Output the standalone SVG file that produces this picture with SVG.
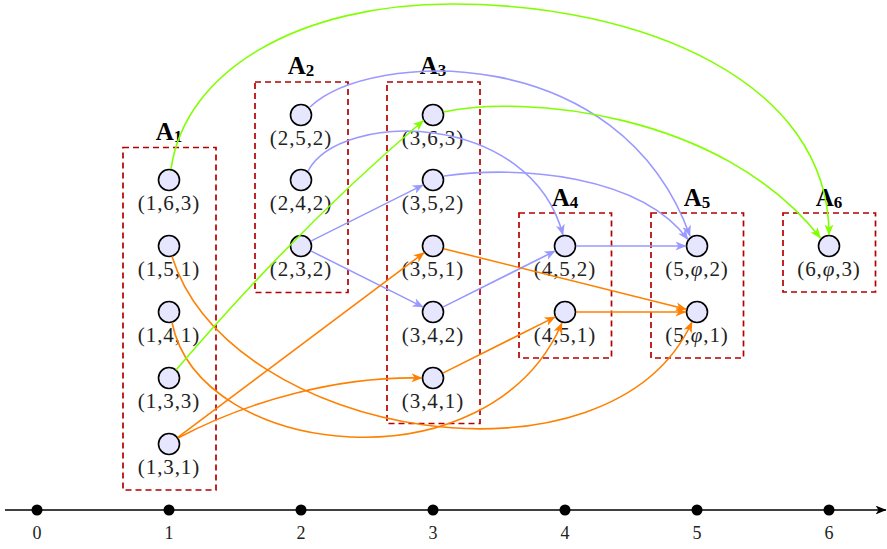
<svg xmlns="http://www.w3.org/2000/svg" width="887" height="549" viewBox="0 0 887 549">
<defs>
<style>
.box{fill:none;stroke:#b30000;stroke-width:1.7;stroke-dasharray:6 4}
.nd{fill:#e6e6ff;stroke:#000;stroke-width:1.6}
.lb{font-family:"Liberation Serif",serif;font-size:21px;text-anchor:middle;letter-spacing:0.9px;fill:#222}
.al{font-family:"Liberation Serif",serif;font-size:25px;font-weight:bold;text-anchor:middle;fill:#000}
.ax{font-family:"Liberation Serif",serif;font-size:18px;text-anchor:middle;fill:#222}
.e{fill:none;stroke-width:1.6}
.o{stroke:#ff8000}
.b{stroke:#9999ff}
.g{stroke:#80ff00}
</style>
<marker id="mo" viewBox="0 0 11 9" refX="10.5" refY="4.5" markerWidth="11" markerHeight="9" markerUnits="userSpaceOnUse" orient="auto"><path d="M0,0 L11,4.5 L0,9 L3,4.5 Z" fill="#ff8000"/></marker>
<marker id="mb" viewBox="0 0 11 9" refX="10.5" refY="4.5" markerWidth="11" markerHeight="9" markerUnits="userSpaceOnUse" orient="auto"><path d="M0,0 L11,4.5 L0,9 L3,4.5 Z" fill="#9999ff"/></marker>
<marker id="mg" viewBox="0 0 11 9" refX="10.5" refY="4.5" markerWidth="11" markerHeight="9" markerUnits="userSpaceOnUse" orient="auto"><path d="M0,0 L11,4.5 L0,9 L3,4.5 Z" fill="#80ff00"/></marker>
<marker id="mk" viewBox="0 0 11 9" refX="10.5" refY="4.5" markerWidth="11" markerHeight="9" markerUnits="userSpaceOnUse" orient="auto"><path d="M0,0 L11,4.5 L0,9 L3,4.5 Z" fill="#000"/></marker>
</defs>
<rect width="887" height="549" fill="#fff"/>

<g id="axis">
<line x1="5" y1="510" x2="886" y2="510" stroke="#000" stroke-width="1.6" marker-end="url(#mk)"/>
<circle cx="37" cy="510" r="5.5"/><circle cx="169" cy="510" r="5.5"/><circle cx="301" cy="510" r="5.5"/><circle cx="433" cy="510" r="5.5"/><circle cx="565" cy="510" r="5.5"/><circle cx="697" cy="510" r="5.5"/><circle cx="829" cy="510" r="5.5"/>
<text class="ax" x="37" y="539">0</text><text class="ax" x="169" y="539">1</text><text class="ax" x="301" y="539">2</text><text class="ax" x="433" y="539">3</text><text class="ax" x="565" y="539">4</text><text class="ax" x="697" y="539">5</text><text class="ax" x="829" y="539">6</text>
</g>

<g id="A1"><rect class="box" x="123" y="147.5" width="93" height="342.5"/><text class="al" x="169" y="140">A<tspan font-size="17" dy="2">1</tspan></text></g>
<g id="A2"><rect class="box" x="255" y="82" width="93" height="210.5"/><text class="al" x="301" y="74">A<tspan font-size="17" dy="2">2</tspan></text></g>
<g id="A3"><rect class="box" x="387" y="82" width="93" height="341.5"/><text class="al" x="433" y="74">A<tspan font-size="17" dy="2">3</tspan></text></g>
<g id="A4"><rect class="box" x="519" y="213" width="92.5" height="145"/><text class="al" x="565" y="206">A<tspan font-size="17" dy="2">4</tspan></text></g>
<g id="A5"><rect class="box" x="651" y="213" width="92.5" height="145"/><text class="al" x="697" y="206">A<tspan font-size="17" dy="2">5</tspan></text></g>
<g id="A6"><rect class="box" x="783" y="213" width="92.5" height="79"/><text class="al" x="829" y="206">A<tspan font-size="17" dy="2">6</tspan></text></g>

<g id="n163"><circle class="nd" cx="169" cy="180" r="10.5"/><text class="lb" x="169" y="210">(1,6,3)</text></g>
<g id="n151"><circle class="nd" cx="169" cy="246" r="10.5"/><text class="lb" x="169" y="276">(1,5,1)</text></g>
<g id="n141"><circle class="nd" cx="169" cy="312" r="10.5"/><text class="lb" x="169" y="342">(1,4,1)</text></g>
<g id="n133"><circle class="nd" cx="169" cy="378" r="10.5"/><text class="lb" x="169" y="408">(1,3,3)</text></g>
<g id="n131"><circle class="nd" cx="169" cy="444" r="10.5"/><text class="lb" x="169" y="474">(1,3,1)</text></g>
<g id="n252"><circle class="nd" cx="301" cy="115" r="10.5"/><text class="lb" x="301" y="145">(2,5,2)</text></g>
<g id="n242"><circle class="nd" cx="301" cy="180" r="10.5"/><text class="lb" x="301" y="210">(2,4,2)</text></g>
<g id="n232"><circle class="nd" cx="301" cy="246" r="10.5"/><text class="lb" x="301" y="276">(2,3,2)</text></g>
<g id="n363"><circle class="nd" cx="433" cy="115" r="10.5"/><text class="lb" x="433" y="145">(3,6,3)</text></g>
<g id="n352"><circle class="nd" cx="433" cy="180" r="10.5"/><text class="lb" x="433" y="210">(3,5,2)</text></g>
<g id="n351"><circle class="nd" cx="433" cy="246" r="10.5"/><text class="lb" x="433" y="276">(3,5,1)</text></g>
<g id="n342"><circle class="nd" cx="433" cy="312" r="10.5"/><text class="lb" x="433" y="342">(3,4,2)</text></g>
<g id="n341"><circle class="nd" cx="433" cy="378" r="10.5"/><text class="lb" x="433" y="408">(3,4,1)</text></g>
<g id="n452"><circle class="nd" cx="565" cy="246" r="10.5"/><text class="lb" x="565" y="276">(4,5,2)</text></g>
<g id="n451"><circle class="nd" cx="565" cy="312" r="10.5"/><text class="lb" x="565" y="342">(4,5,1)</text></g>
<g id="n5p2"><circle class="nd" cx="697" cy="246" r="10.5"/><text class="lb" x="697" y="276">(5,<tspan font-style="italic">φ</tspan>,2)</text></g>
<g id="n5p1"><circle class="nd" cx="697" cy="312" r="10.5"/><text class="lb" x="697" y="342">(5,<tspan font-style="italic">φ</tspan>,1)</text></g>
<g id="n6p3"><circle class="nd" cx="829" cy="246" r="10.5"/><text class="lb" x="829" y="276">(6,<tspan font-style="italic">φ</tspan>,3)</text></g>

<g id="edges">
<path class="e b" d="M310,107 C370,50 620,40 690,236" marker-end="url(#mb)"/>
<path class="e b" d="M308,171 C340,110 530,110 563,235" marker-end="url(#mb)"/>
<path class="e b" d="M444,176 C520,165 640,175 688,239.5" marker-end="url(#mb)"/>
<path class="e b" d="M310.8,241.1 L423.2,184.9" marker-end="url(#mb)"/>
<path class="e b" d="M310.8,250.9 L423.2,307.1" marker-end="url(#mb)"/>
<path class="e b" d="M442.8,307.1 L555.2,250.9" marker-end="url(#mb)"/>
<path class="e b" d="M576,246 L686,246" marker-end="url(#mb)"/>

<path class="e o" d="M177.8,437.4 L424.2,252.6" marker-end="url(#mo)"/>
<path class="e o" d="M178,438 C250,400 340,376 422,378" marker-end="url(#mo)"/>
<path class="e o" d="M172,322.5 C200,460 490,490 562,323" marker-end="url(#mo)"/>
<path class="e o" d="M172,256.5 C230,440 610,500 692,322" marker-end="url(#mo)"/>
<path class="e o" d="M443.7,248.7 L686.3,309.3" marker-end="url(#mo)"/>
<path class="e o" d="M442.8,373.1 L555.2,316.9" marker-end="url(#mo)"/>
<path class="e o" d="M576,312 L686,312" marker-end="url(#mo)"/>

<path class="e g" d="M171,169 C185,70 300,4 452,4 C640,4 829,80 829,235" marker-end="url(#mg)"/>
<path class="e g" d="M176,370 Q300,225 423.5,120.5" marker-end="url(#mg)"/>
<path class="e g" d="M443.5,112 C520,95 720,110 820.5,238" marker-end="url(#mg)"/>
</g>
</svg>
